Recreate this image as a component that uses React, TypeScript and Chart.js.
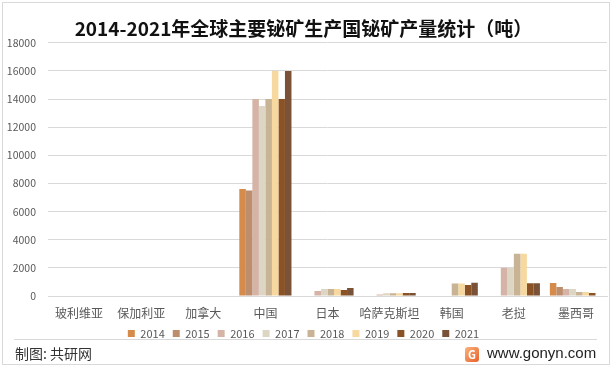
import React, { useEffect, useRef } from "react";
import { Chart, registerables } from "chart.js";

Chart.register(...registerables);

const countries = ["玻利维亚", "保加利亚", "加拿大", "中国", "日本", "哈萨克斯坦", "韩国", "老挝", "墨西哥"];
const years = ["2014", "2015", "2016", "2017", "2018", "2019", "2020", "2021"];
const v2014 = [0, 0, 0, 7600, 0, 0, 0, 0, 920];
const v2015 = [0, 0, 0, 7500, 0, 0, 0, 0, 640];
const v2016 = [0, 0, 0, 14000, 360, 100, 0, 2000, 500];
const v2017 = [0, 0, 0, 13500, 500, 200, 0, 2000, 500];
const v2018 = [0, 0, 0, 14000, 500, 200, 880, 3000, 290];
const v2019 = [0, 0, 0, 16000, 500, 200, 880, 3000, 290];
const v2020 = [0, 0, 0, 14000, 430, 220, 780, 900, 220];
const v2021 = [0, 0, 0, 16000, 570, 220, 950, 900, 0];
const yTicks = [0, 2000, 4000, 6000, 8000, 10000, 12000, 14000, 16000, 18000];
const colors = ["#D58B4B", "#BD8E6E", "#D5B3A6", "#DED6C5", "#C8B394", "#F7D9A0", "#8B5226", "#7A5237"];

const FONT = "'Noto Sans CJK SC', 'Noto Sans', sans-serif";

export default function App() {
  const ref = useRef<HTMLCanvasElement>(null);
  useEffect(() => {
    const series = [v2014, v2015, v2016, v2017, v2018, v2019, v2020, v2021];
    const chart = new Chart(ref.current!, {
      type: "bar",
      data: {
        labels: countries,
        datasets: years.map((y, i) => ({
          label: y,
          data: series[i],
          backgroundColor: colors[i],
          borderWidth: 0,
          categoryPercentage: 0.84,
          barPercentage: 1,
        })),
      },
      options: {
        animation: false,
        responsive: false,
        maintainAspectRatio: false,
        layout: { padding: { left: 0, right: 8, top: 0, bottom: 0 } },
        plugins: {
          title: {
            display: true,
            text: "2014-2021年全球主要铋矿生产国铋矿产量统计（吨）",
            color: "#111",
            font: { family: FONT, size: 19, weight: "bold" },
            padding: { top: 17, bottom: 3 },
          },
          legend: {
            position: "bottom",
            labels: {
              boxWidth: 7,
              boxHeight: 7,
              padding: 8,
              color: "#595959",
              font: { family: FONT, size: 11 },
            },
          },
          tooltip: { enabled: false },
        },
        scales: {
          x: {
            grid: { display: false, drawTicks: false },
            border: { display: true, color: "#d9d9d9" },
            afterFit: (s: any) => {
              s.height = 24;
            },
            ticks: { color: "#595959", font: { family: FONT, size: 12 }, padding: 10, maxRotation: 0, autoSkip: false },
          },
          y: {
            min: 0,
            max: 18000,
            afterBuildTicks: (s: any) => {
              s.ticks = yTicks.map((v) => ({ value: v }));
            },
            afterFit: (s: any) => {
              s.width = 48;
            },
            grid: { color: "#d9d9d9", drawTicks: false },
            border: { display: false },
            ticks: {
              color: "#595959",
              font: { family: FONT, size: 10.5 },
              padding: 12,
              callback: (v: any) => String(v),
            },
          },
        },
      },
    });
    return () => chart.destroy();
  }, []);

  return (
    <div style={{ position: "fixed", left: 0, top: 0, width: 615, height: 368, background: "#fff", fontFamily: FONT }}>
      <div style={{ position: "absolute", left: 2, top: 2, width: 606, height: 361, border: "1px solid #d9d9d9" }} />
      <div style={{ position: "absolute", left: 14, top: 339, width: 583, height: 0, borderTop: "1px solid #d9d9d9" }} />
      <canvas ref={ref} width={615} height={349} style={{ position: "absolute", left: 0, top: 0, width: 615, height: 349 }} />
      <div style={{ position: "absolute", left: 15, top: 344, fontSize: 14, color: "#333", lineHeight: "18px" }}>制图: 共研网</div>
      <div style={{ position: "absolute", left: 465, top: 347, width: 14, height: 15, borderRadius: 3, background: "linear-gradient(135deg,#f9b37a,#e8612c)", color: "#fff", fontSize: 11, fontWeight: "bold", lineHeight: "15px", textAlign: "center" }}>G</div>
      <div style={{ position: "absolute", left: 487, top: 344, fontSize: 15, color: "#222", lineHeight: "18px", fontFamily: "'Liberation Sans', sans-serif" }}>www.gonyn.com</div>
    </div>
  );
}
